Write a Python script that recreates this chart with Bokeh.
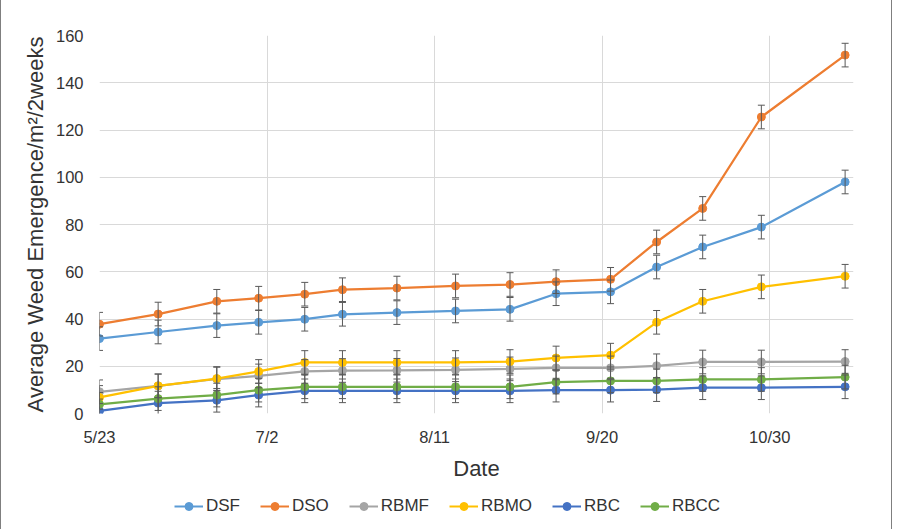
from datetime import date

from bokeh.plotting import figure
from bokeh.layouts import column
from bokeh.models import (ColumnDataSource, Whisker, TeeHead, FixedTicker,
                          Legend, LegendItem, Range1d)
from bokeh.embed import file_html
from bokeh.resources import INLINE

# Sampling dates (month/day) and axis labels
dates = ["5/23", "6/6", "6/20", "6/30", "7/11", "7/20", "8/2", "8/16",
         "8/29", "9/9", "9/22", "10/3", "10/14", "10/28", "11/17"]
tick_dates = ["5/23", "7/2", "8/11", "9/20", "10/30"]
axis_start = "5/23"
axis_end = "11/19"
y_ticks = [0, 20, 40, 60, 80, 100, 120, 140, 160]

# Average weed emergence per m2 per two weeks
dsf = [31.7, 34.5, 37.2, 38.6, 39.9, 42.0, 42.7, 43.4, 44.1, 50.7,
       51.5, 62.0, 70.5, 78.9, 98.0]
dso = [37.8, 42.1, 47.5, 48.8, 50.5, 52.4, 53.1, 54.0, 54.6, 55.8,
       56.8, 72.6, 86.8, 125.5, 151.7]
rbmf = [9.2, 11.7, 14.6, 15.9, 17.8, 18.2, 18.3, 18.5, 18.9, 19.3,
        19.3, 20.2, 21.8, 21.8, 22.0]
rbmo = [6.8, 11.7, 14.8, 17.8, 21.6, 21.6, 21.6, 21.6, 22.0, 23.5,
        24.7, 38.6, 47.5, 53.6, 58.1]
rbc = [1.1, 4.4, 5.6, 7.8, 9.6, 9.6, 9.6, 9.6, 9.6, 9.9,
       9.9, 10.1, 10.9, 10.9, 11.3]
rbcc = [3.9, 6.3, 7.8, 9.9, 11.3, 11.3, 11.3, 11.3, 11.3, 13.3,
        13.8, 13.8, 14.4, 14.4, 15.4]
error = 5.0

series = [
    ("DSF", dsf, "#5B9BD5"),
    ("DSO", dso, "#ED7D31"),
    ("RBMF", rbmf, "#A5A5A5"),
    ("RBMO", rbmo, "#FFC000"),
    ("RBC", rbc, "#4472C4"),
    ("RBCC", rbcc, "#70AD47"),
]


def day(md):
    """Days since the first sampling date."""
    m, d = (int(v) for v in md.split("/"))
    m0, d0 = (int(v) for v in axis_start.split("/"))
    return (date(2001, m, d) - date(2001, m0, d0)).days


xs = [day(d) for d in dates]
FONT = "Liberation Sans"
TEXT = "#333333"
SIDES = {"border-left": "1px solid #7f7f7f",
         "border-right": "1px solid #7f7f7f"}

# ---- main chart ----
p = figure(width=892, height=490,
           x_range=Range1d(0, day(axis_end)), y_range=Range1d(0, 160),
           output_backend="svg", toolbar_location=None,
           min_border_left=98, min_border_right=40,
           min_border_top=35, min_border_bottom=77)
p.styles = SIDES
p.outline_line_color = None
p.background_fill_color = "white"
p.border_fill_color = "white"

x_ticker = FixedTicker(ticks=[day(t) for t in tick_dates])
y_ticker = FixedTicker(ticks=y_ticks)
p.xaxis.ticker = x_ticker
p.xaxis.major_label_overrides = {day(t): t for t in tick_dates}
p.yaxis.ticker = y_ticker
p.xgrid.ticker = x_ticker
p.ygrid.ticker = y_ticker

for ax in (p.xaxis[0], p.yaxis[0]):
    ax.axis_line_color = None
    ax.major_tick_line_color = None
    ax.minor_tick_line_color = None
    ax.major_tick_out = 0
    ax.major_tick_in = 0
    ax.major_label_text_font = FONT
    ax.major_label_text_font_size = "16.5px"
    ax.major_label_text_color = TEXT
    ax.axis_label_text_font = FONT
    ax.axis_label_text_font_size = "22px"
    ax.axis_label_text_font_style = "normal"
    ax.axis_label_text_color = TEXT

p.xaxis.axis_label = "Date"
p.xaxis.major_label_standoff = 14
p.xaxis.axis_label_standoff = 7
p.yaxis.axis_label = "Average Weed Emergence/m\u00b2/2weeks"
p.yaxis.major_label_standoff = 16
p.yaxis.axis_label_standoff = 5

for g in (p.xgrid[0], p.ygrid[0]):
    g.grid_line_color = "#d9d9d9"
    g.grid_line_width = 1

for name, vals, color in series:
    src = ColumnDataSource(dict(
        x=xs, y=vals,
        upper=[v + error for v in vals],
        lower=[v - error for v in vals],
    ))
    p.line("x", "y", source=src, line_color=color, line_width=2.25)
    p.scatter("x", "y", source=src, marker="circle", size=8,
              fill_color=color, line_color=color)
    p.add_layout(Whisker(
        source=src, base="x", upper="upper", lower="lower",
        line_color="#595959", line_width=1, level="overlay",
        upper_head=TeeHead(size=7, line_color="#595959", line_width=1),
        lower_head=TeeHead(size=7, line_color="#595959", line_width=1)))

# ---- legend strip under the chart ----
leg = figure(width=892, height=39, x_range=Range1d(0, 1), y_range=Range1d(0, 1),
             output_backend="svg", toolbar_location=None,
             x_axis_location=None, y_axis_location=None,
             min_border=0)
leg.styles = SIDES
leg.outline_line_color = None
leg.xgrid.visible = False
leg.ygrid.visible = False

items = []
nan = float("nan")
for name, vals, color in series:
    # key-only renderers: one undrawable point so the legend swatch gets its style
    key = ColumnDataSource(dict(x=[nan], y=[nan]))
    ln = leg.line("x", "y", source=key, line_color=color, line_width=2)
    mk = leg.scatter("x", "y", source=key, marker="circle", size=6,
                     fill_color=color, line_color=color)
    items.append(LegendItem(label=name, renderers=[ln, mk]))

# the strip's frame is aligned with the chart's frame (left edge at 98 px)
legend = Legend(items=items, orientation="horizontal", location=(75, 13),
                padding=0, margin=0, spacing=20, glyph_width=29,
                glyph_height=20, label_standoff=3, label_height=20,
                label_text_font=FONT, label_text_font_size="17px",
                label_text_color=TEXT, border_line_color=None,
                background_fill_alpha=0)
leg.add_layout(legend)

open("out.html", "w").write(file_html(column(p, leg, spacing=0), INLINE))
